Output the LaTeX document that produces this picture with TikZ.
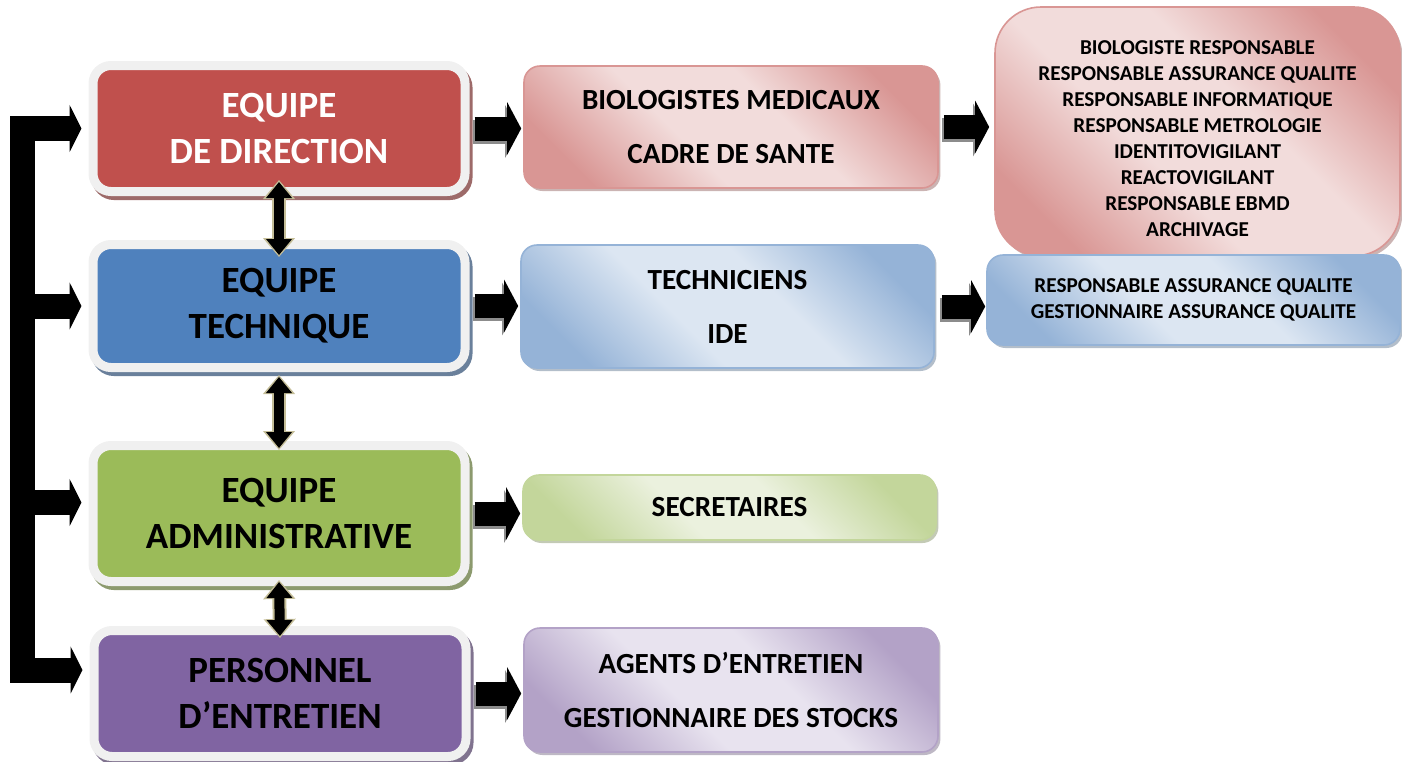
\documentclass[tikz,border=0pt]{standalone}
\usepackage{fontspec}
\setmainfont{Carlito}
\usetikzlibrary{arrows.meta,shadows}

\definecolor{dirred}{HTML}{C0504D}
\definecolor{techblue}{HTML}{4F81BD}
\definecolor{admingreen}{HTML}{9BBB59}
\definecolor{entrpurple}{HTML}{8064A2}
\definecolor{biolight}{HTML}{F2DCDB}
\definecolor{biodark}{HTML}{D99694}
\definecolor{techlight}{HTML}{DCE6F2}
\definecolor{techdark}{HTML}{95B3D7}
\definecolor{secrlight}{HTML}{EBF1DE}
\definecolor{secrdark}{HTML}{C3D69B}
\definecolor{entrlight}{HTML}{E8E3EF}
\definecolor{entrdark}{HTML}{B3A2C7}
\definecolor{framegray}{HTML}{F0F0F0}
\definecolor{linktan}{HTML}{C4BD97}
\colorlet{staffdark}{biodark}
\colorlet{stafflight}{biolight}

% soft gradient with a wide light band in the middle
\pgfdeclareverticalshading[staffdark,stafflight]{staffshade}{100bp}{%
  color(0bp)=(staffdark); color(24bp)=(staffdark); color(42bp)=(stafflight);
  color(58bp)=(stafflight); color(76bp)=(staffdark); color(100bp)=(staffdark)}

\tikzset{
  teambox/.style={rectangle, rounded corners=9pt, fill=#1, draw=framegray,
    line width=4.5pt, minimum width=186pt, align=center,
    font=\fontsize{18.5}{23}\selectfont\bfseries,
    preaction={draw=#1!45!gray, line width=4.5pt,
      transform canvas={shift={(1.5pt,-2pt)}}}},
  staffbox/.style 2 args={rectangle, rounded corners=8pt, draw=#2, line width=0.8pt,
    /utils/exec={\colorlet{staffdark}{#2}\colorlet{stafflight}{#1}},
    shading=staffshade, shading angle=-45,
    drop shadow={shadow xshift=1.2pt, shadow yshift=-1.5pt, fill=#2!70!black, opacity=.5},
    align=center, font=\fontsize{14.6}{27}\selectfont\bfseries},
  pusharrow/.style={draw=black, line width=12pt, -{Triangle[length=7pt,width=26pt]},
    preaction={draw=black!45, line width=12pt, -{Triangle[length=7pt,width=26pt]},
      transform canvas={shift={(-1pt,-1.5pt)}}}},
  spinearrow/.style={draw=black, line width=12.5pt, line join=miter,
    shorten >=3.5pt},
  linkarrow/.style={draw=black, line width=5pt,
    {Triangle[length=8pt,width=12.5pt,sep=1pt]}-{Triangle[length=8pt,width=12.5pt,sep=1pt]},
    preaction={draw=linktan, line width=7pt,
      {Triangle[length=9.5pt,width=15.5pt]}-{Triangle[length=9.5pt,width=15.5pt]}}},
}

\begin{document}
\begin{tikzpicture}[x=0.5pt,y=-0.5pt]
  \useasboundingbox (0,0) rectangle (1402,761);
  % teams
  \node[teambox=dirred, text=white, minimum height=63pt] (dir) at (279,128.5) {EQUIPE\\DE DIRECTION};
  \node[teambox=techblue, minimum height=61.5pt] (tech) at (279,306) {EQUIPE\\TECHNIQUE};
  \node[teambox=admingreen, minimum height=68pt] (admin) at (279,513.5) {EQUIPE\\ADMINISTRATIVE};
  \node[teambox=entrpurple, minimum height=63pt] (entr) at (280,693.5) {PERSONNEL\\D’ENTRETIEN};
  % staff of each team
  \node[staffbox={biolight}{biodark}, minimum width=207pt, minimum height=61pt] (bio) at (731,127) {BIOLOGISTES MEDICAUX\\CADRE DE SANTE};
  \node[staffbox={techlight}{techdark}, minimum width=206.5pt, minimum height=61.5pt] (techn) at (727.5,306.5) {TECHNICIENS\\IDE};
  \node[staffbox={secrlight}{secrdark}, minimum width=206.5pt, minimum height=32.5pt] (secr) at (729.5,507.5) {SECRETAIRES};
  \node[staffbox={entrlight}{entrdark}, minimum width=207pt, minimum height=62pt] (agents) at (731,690) {AGENTS D’ENTRETIEN\\GESTIONNAIRE DES STOCKS};
  % functions
  \node[staffbox={biolight}{biodark}, rounded corners=23pt, minimum width=202.5pt, minimum height=124.5pt,
    font=\fontsize{10.6}{13}\selectfont\bfseries] (resp) at (1197.5,131.5)
    {\rule{0pt}{14pt}BIOLOGISTE RESPONSABLE\\RESPONSABLE ASSURANCE QUALITE\\RESPONSABLE INFORMATIQUE\\RESPONSABLE METROLOGIE\\IDENTITOVIGILANT\\REACTOVIGILANT\\RESPONSABLE EBMD\\ARCHIVAGE};
  \node[staffbox={techlight}{techdark}, minimum width=206.5pt, minimum height=45pt,
    font=\fontsize{10.6}{13}\selectfont\bfseries] (qual) at (1193.5,300)
    {RESPONSABLE ASSURANCE QUALITE\\GESTIONNAIRE ASSURANCE QUALITE};
  % arrows to the right
  \draw[pusharrow, shorten <=2.5pt, shorten >=1pt] (dir.east) -- (dir.east -| bio.west);
  \draw[pusharrow, shorten <=2.5pt, shorten >=1pt] (tech.east) -- (tech.east -| techn.west);
  \draw[pusharrow, shorten <=2.5pt, shorten >=1pt] (admin.east) -- (admin.east -| secr.west);
  \draw[pusharrow, shorten <=2.5pt, shorten >=1pt] (entr.east) -- (entr.east -| agents.west);
  \draw[pusharrow, shorten <=2.5pt, shorten >=2.5pt] (bio.east) -- (bio.east -| resp.west);
  \draw[pusharrow, shorten <=3.5pt, shorten >=0.5pt] (techn.east) -- (techn.east -| qual.west);
  % links between teams
  \draw[linkarrow] ([yshift=8pt]dir.south) -- ([yshift=-8.5pt]tech.north);
  \draw[linkarrow] ([yshift=-1.5pt]tech.south) -- ([yshift=-4.5pt]admin.north);
  \draw[linkarrow] ([yshift=3pt]admin.south) -- ([yshift=-6pt]entr.north);
  % spine on the left
  \coordinate (spine) at (22.5,0);
  \coordinate (adminin) at ([yshift=5.5pt]admin.west);
  \coordinate (entrin) at ([yshift=11.75pt]entr.west);
  \draw[spinearrow, shorten <=3.5pt, {Triangle[length=6pt,width=23.5pt]}-{Triangle[length=6pt,width=23.5pt]}]
    (dir.west) -- (dir.west -| spine) -- (entrin -| spine) -- (entrin);
  \draw[spinearrow, -{Triangle[length=6pt,width=23.5pt]}] (spine |- tech.west) -- (tech.west);
  \draw[spinearrow, -{Triangle[length=6pt,width=23.5pt]}] (spine |- adminin) -- (adminin);
\end{tikzpicture}
\end{document}
